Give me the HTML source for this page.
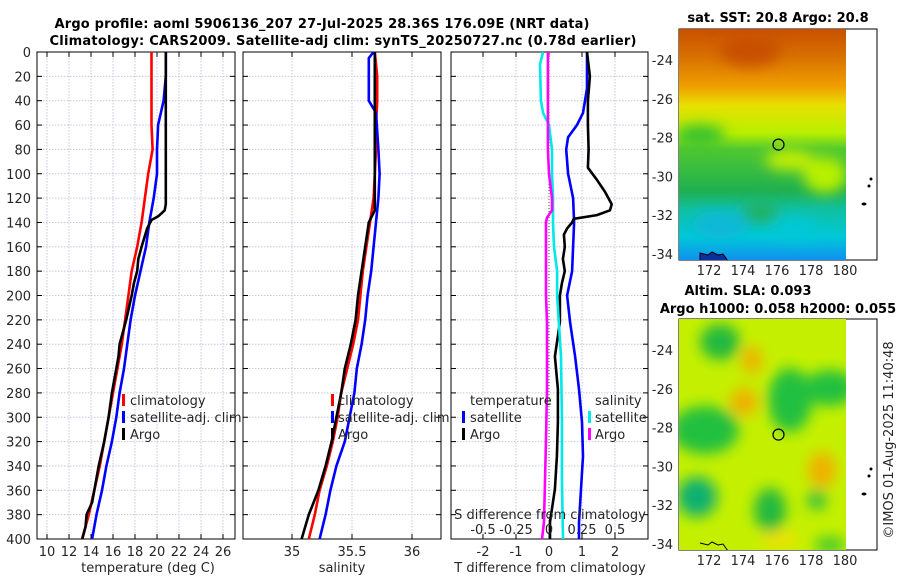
<!DOCTYPE html>
<html><head><meta charset="utf-8">
<style>
html,body{margin:0;padding:0;background:#fff;}
svg{display:block;font-family:"DejaVu Sans","Liberation Sans",sans-serif;}
.tk{font-size:13px;fill:#262626;}
.ttl{font-size:13px;font-weight:bold;fill:#000;}
</style></head>
<body>
<svg id="fig" width="900" height="580" viewBox="0 0 900 580">
<defs>
<filter id="blur8" x="-50%" y="-50%" width="200%" height="200%"><feGaussianBlur stdDeviation="7"/></filter>
<filter id="blur3"><feGaussianBlur stdDeviation="2.5"/></filter>
<linearGradient id="sstGrad" x1="0" y1="0" x2="0" y2="1">
<stop offset="0" stop-color="#c85000"/><stop offset="0.12" stop-color="#d87000"/>
<stop offset="0.25" stop-color="#f0a000"/><stop offset="0.33" stop-color="#e8e000"/>
<stop offset="0.45" stop-color="#b8f000"/><stop offset="0.52" stop-color="#50c830"/>
<stop offset="0.7" stop-color="#20b050"/><stop offset="0.78" stop-color="#10c0a0"/>
<stop offset="0.9" stop-color="#00c8d8"/><stop offset="1" stop-color="#1090f0"/>
</linearGradient>
<clipPath id="clipM1"><rect x="679" y="29" width="167" height="231"/></clipPath>
<clipPath id="clipM2"><rect x="679" y="319" width="167" height="231"/></clipPath>
</defs>
<text class="ttl" x="322" y="28" text-anchor="middle" textLength="535">Argo profile: aoml 5906136_207 27-Jul-2025 28.36S 176.09E (NRT data)</text>
<text class="ttl" x="343" y="45" text-anchor="middle" textLength="587">Climatology: CARS2009. Satellite-adj clim: synTS_20250727.nc (0.78d earlier)</text>
<g id="panels"></g>
<g>
<rect x="679" y="29" width="198" height="231" fill="#fff" stroke="#000" stroke-width="1"/>
<g clip-path="url(#clipM1)">
<rect x="679" y="29" width="167" height="231" fill="url(#sstGrad)"/>
<g filter="url(#blur8)">
<ellipse cx="700" cy="135" rx="25" ry="10" fill="#30c030"/>
<ellipse cx="825" cy="175" rx="22" ry="18" fill="#b8f000"/>
<ellipse cx="790" cy="160" rx="25" ry="10" fill="#c8f000"/>
<ellipse cx="720" cy="225" rx="28" ry="14" fill="#10b8d8"/>
<ellipse cx="795" cy="228" rx="22" ry="10" fill="#00c8d8"/>
<ellipse cx="760" cy="212" rx="18" ry="10" fill="#20b060"/>
<ellipse cx="750" cy="50" rx="30" ry="16" fill="#c85000"/>
</g>
<path d="M700,253 l8,2 4,-3 6,3 5,-1 5,7 -28,0z" fill="#0a30a0" stroke="#000" stroke-width="1"/>
</g>
<circle cx="778.5" cy="144.6" r="5.5" fill="none" stroke="#000" stroke-width="1.2"/>
<circle cx="871" cy="179" r="1.5" fill="#000"/><circle cx="869" cy="186" r="1.5" fill="#000"/><ellipse cx="864" cy="204" rx="2.5" ry="1.5" fill="#000"/>
<text class="ttl" x="778" y="22" text-anchor="middle">sat. SST: 20.8 Argo: 20.8</text>
</g>
<g>
<rect x="679" y="319" width="198" height="231" fill="#fff" stroke="#000" stroke-width="1"/>
<g clip-path="url(#clipM2)">
<rect x="679" y="319" width="167" height="231" fill="#c4f000"/>
<g filter="url(#blur8)">
<ellipse cx="720" cy="342" rx="20" ry="18" fill="#20b840"/>
<ellipse cx="790" cy="400" rx="22" ry="32" fill="#20c040"/>
<ellipse cx="830" cy="388" rx="26" ry="18" fill="#20c040"/>
<ellipse cx="705" cy="430" rx="34" ry="24" fill="#20c040"/>
<ellipse cx="697" cy="497" rx="20" ry="20" fill="#10b070"/>
<ellipse cx="770" cy="510" rx="16" ry="22" fill="#20b840"/>
<ellipse cx="817" cy="500" rx="10" ry="10" fill="#30c040"/>
<ellipse cx="830" cy="545" rx="16" ry="8" fill="#40c830"/>
<ellipse cx="752" cy="360" rx="10" ry="14" fill="#f0b000"/>
<ellipse cx="744" cy="402" rx="14" ry="14" fill="#f0b000"/>
<ellipse cx="822" cy="470" rx="14" ry="18" fill="#f0b000"/>
<ellipse cx="780" cy="540" rx="20" ry="8" fill="#f0e000"/>
</g>
<path d="M700,543 l8,2 4,-3 6,3 5,-1 5,7" fill="none" stroke="#000" stroke-width="1"/>
</g>
<circle cx="778.5" cy="434.6" r="5.5" fill="none" stroke="#000" stroke-width="1.2"/>
<circle cx="871" cy="469" r="1.5" fill="#000"/><circle cx="869" cy="476" r="1.5" fill="#000"/><ellipse cx="864" cy="494" rx="2.5" ry="1.5" fill="#000"/>
<text class="ttl" x="748" y="295" text-anchor="middle">Altim. SLA: 0.093</text>
<text class="ttl" x="778" y="313" text-anchor="middle">Argo h1000: 0.058 h2000: 0.055</text>
</g>
<text class="tk" x="0" y="0" transform="translate(893,440) rotate(-90)" text-anchor="middle">©IMOS 01-Aug-2025 11:40:48</text>
</svg>
<script>
const stdDepths=[0,20,40,60,80,100,120,140,160,180,200,220,240,260,280,300,320,340,360,380,400];
const tempClim=[19.5,19.5,19.5,19.5,19.6,19.2,18.9,18.6,18.2,17.7,17.4,17.1,16.8,16.4,16.0,15.6,15.2,14.8,14.3,13.8,13.2];
const tempSat=[20.8,20.8,20.6,20.1,20.0,20.0,19.7,19.3,19.0,18.5,18.0,17.6,17.3,17.0,16.6,16.3,15.9,15.4,15.0,14.5,14.1];
const argoTDepths=[0,125,130,135,138,145,160,170,180,190,200,220,240,250,260,280,300,320,340,360,370,380,390,400];
const tempArgo=[20.8,20.8,20.7,20.1,19.5,19.1,18.6,18.3,18.2,17.9,17.7,17.2,16.6,16.5,16.3,15.9,15.6,15.2,14.7,14.3,14.1,13.6,13.5,13.2];
const salClim=[35.69,35.71,35.71,35.70,35.70,35.69,35.68,35.65,35.62,35.59,35.57,35.55,35.51,35.46,35.41,35.38,35.34,35.29,35.23,35.19,35.14];
const satSDepths=[0,5,40,50,80,100,120,140,160,180,200,220,240,260,280,300,320,340,360,380,400];
const salSat=[35.68,35.64,35.64,35.70,35.72,35.73,35.72,35.70,35.68,35.66,35.63,35.61,35.58,35.54,35.52,35.48,35.44,35.37,35.32,35.28,35.23];
const argoSDepths=[0,130,138,140,160,180,200,220,240,260,280,300,320,340,360,380,400];
const salArgo=[35.69,35.69,35.65,35.64,35.61,35.58,35.55,35.53,35.49,35.44,35.41,35.37,35.33,35.28,35.22,35.14,35.08];
const dTArgoDepths=[0,20,40,60,80,95,105,115,125,130,134,137,140,145,150,160,170,180,190,200,222,250,277,304,332,359,386,400];
const dTArgo=[1.15,1.24,1.18,1.18,1.2,1.18,1.45,1.7,1.9,1.85,1.45,0.75,0.7,0.55,0.45,0.48,0.42,0.48,0.39,0.33,0.33,0.18,0.27,0.27,0.24,0.18,0.03,0.03];
const dTSatDepths=[0,30,50,60,70,80,100,120,140,160,180,200,222,250,277,304,332,359,386,400];
const dTSat=[1.15,1.15,1.03,0.85,0.58,0.52,0.58,0.73,0.76,0.73,0.70,0.55,0.64,0.79,0.91,1.0,1.03,0.97,0.91,0.91];
const dSSatDepths=[0,10,40,50,60,80,100,120,140,160,180,200,250,300,350,400];
const dSSat=[-0.045,-0.068,-0.061,-0.045,0,0.023,0.023,0.03,0.03,0.038,0.061,0.061,0.091,0.098,0.098,0.106];
const dSArgoDepths=[0,50,80,100,120,130,136,140,200,222,277,318,386,400];
const dSArgo=[-0.008,-0.008,-0.008,0,0.023,0.023,-0.015,-0.023,-0.023,-0.015,-0.015,-0.023,-0.038,-0.053];
const depthTicks=[0,20,40,60,80,100,120,140,160,180,200,220,240,260,280,300,320,340,360,380,400];
const tempTicks=[10,12,14,16,18,20,22,24,26];
const salTicks=[35,35.5,36];
const salTickLabels=["35","35.5","36"];
const dTTicks=[-2,-1,0,1,2];
const dSTicks=[-0.5,-0.25,0,0.25,0.5];
const dSTickLabels=["-0.5","-0.25","0","0.25","0.5"];
const latTicks=[-24,-26,-28,-30,-32,-34];
const lonTicks=[172,174,176,178,180];

const Y0=52,Y1=539;
const yD=d=>Y0+d*(Y1-Y0)/400;
const xT=t=>47+(t-10)*11;
const xS=s=>292+(s-35)*120;
const xdT=t=>549+t*33;
const xdS=s=>549+s*132;
const NS='http://www.w3.org/2000/svg';
const root=document.getElementById('panels');
function mk(tag,attrs,parent){const e=document.createElementNS(NS,tag);for(const k in attrs)e.setAttribute(k,attrs[k]);(parent||root).appendChild(e);return e;}

function panel(name,L,R,xs,ticks,labels,showY){
  const g=mk('g',{});
  
  
  ticks.forEach(t=>{const l=mk('line',{x1:xs(t),x2:xs(t),y1:Y0,y2:Y1,stroke:'#c4c8e4','stroke-width':1,'stroke-dasharray':'1.5,1.5'},g);
    
    });
  depthTicks.forEach(d=>{const y=yD(d);
    const l=mk('line',{x1:L,x2:R,y1:y,y2:y,stroke:'#c4c8e4','stroke-width':1,'stroke-dasharray':'1.5,1.5'},g);
    
    
    mk('line',{x1:L,x2:L+5,y1:y,y2:y,stroke:'#000'},g);mk('line',{x1:R-5,x2:R,y1:y,y2:y,stroke:'#000'},g);
    if(showY){const t=mk('text',{x:L-6,y:y+5,'text-anchor':'end',class:'tk'},g);t.textContent=d;
      
      }
  });
  ticks.forEach((t,i)=>{mk('line',{x1:xs(t),x2:xs(t),y1:Y1-5,y2:Y1,stroke:'#000'},g);mk('line',{x1:xs(t),x2:xs(t),y1:Y0,y2:Y0+5,stroke:'#000'},g);
    const tx=mk('text',{x:xs(t),y:556,'text-anchor':'middle',class:'tk'},g);tx.textContent=labels[i];
    
    });
  const f=mk('rect',{x:L,y:Y0,width:R-L,height:Y1-Y0,fill:'none',stroke:'#000','stroke-width':1},g);
  
  
  return g;
}
function line(g,name,xs,depths,vals,color){
  const pts=depths.map((d,i)=>xs(vals[i]).toFixed(1)+','+yD(d).toFixed(1)).join(' ');
  const p=mk('polyline',{points:pts,fill:'none',stroke:color,'stroke-width':2.6,'stroke-linejoin':'round'},g);
  
  
}
function txt(g,name,x,y,s,anchor){const t=mk('text',{x:x,y:y,class:'tk','text-anchor':anchor||'start'},g);t.textContent=s;
  
  return t;}
function legendMark(g,x,y,c){mk('rect',{x:x,y:y-11,width:3,height:12,fill:c},g);}

const g1=panel('temperature-panel',37,235,xT,tempTicks,tempTicks.map(String),true);
line(g1,'temp-climatology-line',xT,stdDepths,tempClim,'#ff0000');
line(g1,'temp-satellite-line',xT,stdDepths,tempSat,'#0000ff');
line(g1,'temp-argo-line',xT,argoTDepths,tempArgo,'#000');
legendMark(g1,122,405,'#ff0000');txt(g1,'legend-climatology',130,405,'climatology');
legendMark(g1,122,422,'#0000ff');txt(g1,'legend-satellite-adj',130,422,'satellite-adj. clim');
legendMark(g1,122,439,'#000');txt(g1,'legend-argo',130,439,'Argo');
txt(g1,'x-axis-title',148,572,'temperature (deg C)','middle');

const g2=panel('salinity-panel',243,441,xS,salTicks,salTickLabels,false);
line(g2,'sal-climatology-line',xS,stdDepths,salClim,'#ff0000');
line(g2,'sal-satellite-line',xS,satSDepths,salSat,'#0000ff');
line(g2,'sal-argo-line',xS,argoSDepths,salArgo,'#000');
legendMark(g2,331,405,'#ff0000');txt(g2,'legend-climatology',338,405,'climatology');
legendMark(g2,331,422,'#0000ff');txt(g2,'legend-satellite-adj',338,422,'satellite-adj. clim');
legendMark(g2,331,439,'#000');txt(g2,'legend-argo',338,439,'Argo');
txt(g2,'x-axis-title',342,572,'salinity','middle');

const g3=panel('difference-panel',451,648,xdT,dTTicks,dTTicks.map(String),false);
mk('line',{x1:549,x2:549,y1:Y0,y2:Y1,stroke:'#555','stroke-width':1,'stroke-dasharray':'1,2'},g3);
line(g3,'dT-satellite-line',xdT,dTSatDepths,dTSat,'#0000ff');
line(g3,'dT-argo-line',xdT,dTArgoDepths,dTArgo,'#000');
line(g3,'dS-satellite-line',xdS,dSSatDepths,dSSat,'#00e8e8');
line(g3,'dS-argo-line',xdS,dSArgoDepths,dSArgo,'#ff00ff');
txt(g3,'legend-temperature-heading',470,405,'temperature');
legendMark(g3,462,422,'#0000ff');txt(g3,'legend-t-satellite',470,422,'satellite');
legendMark(g3,462,439,'#000');txt(g3,'legend-t-argo',470,439,'Argo');
txt(g3,'legend-salinity-heading',595,405,'salinity');
legendMark(g3,588,422,'#00e8e8');txt(g3,'legend-s-satellite',595,422,'satellite');
legendMark(g3,588,439,'#ff00ff');txt(g3,'legend-s-argo',595,439,'Argo');
txt(g3,'s-axis-title',550,519,'S difference from climatology','middle');
dSTicks.forEach((s,i)=>{txt(g3,'s-tick-label',xdS(s),534,dSTickLabels[i],'middle');});
txt(g3,'x-axis-title',550,572,'T difference from climatology','middle');

const xLon=l=>709+(l-172)*17;
const yLat=(a,top)=>top+31+(-24-a)*19.4;
[[29,275,'sst'],[319,565,'sla']].forEach(([top,ly,nm])=>{
  latTicks.forEach(a=>{const y=yLat(a,top);
    mk('line',{x1:679,x2:684,y1:y,y2:y,stroke:'#000'});mk('line',{x1:872,x2:877,y1:y,y2:y,stroke:'#000'});
    txt(root,nm+'-lat-label',673,y+5,String(a),'end');});
  lonTicks.forEach(l=>{const x=xLon(l);
    mk('line',{x1:x,x2:x,y1:top+226,y2:top+231,stroke:'#000'});mk('line',{x1:x,x2:x,y1:top,y2:top+5,stroke:'#000'});
    txt(root,nm+'-lon-label',x,ly,String(l),'middle');});
});
</script>
</body></html>
